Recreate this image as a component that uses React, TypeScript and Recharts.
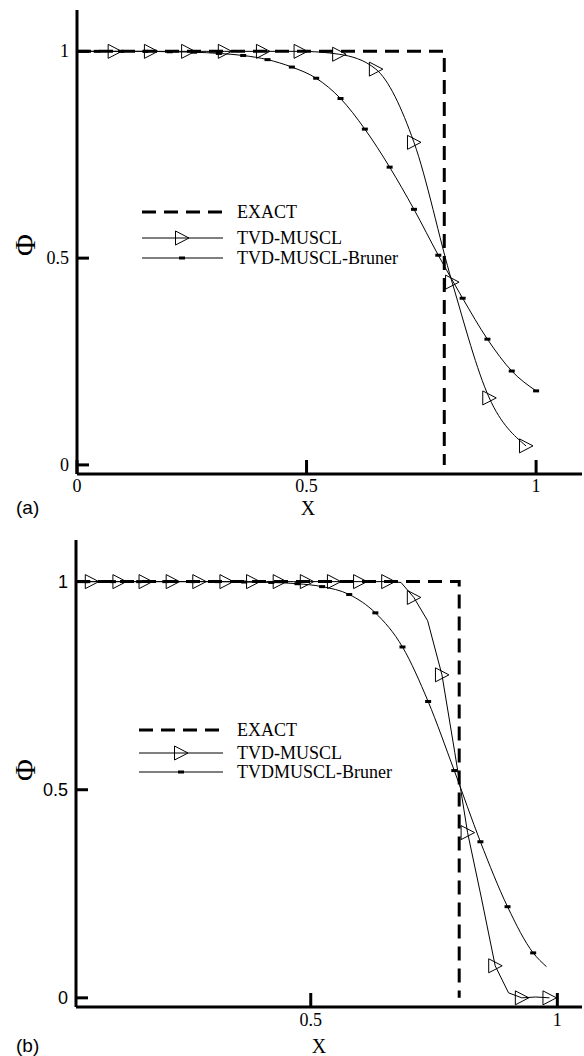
import { LineChart, Line, XAxis, YAxis } from "recharts"

const SERIF = "'Liberation Serif', 'Times New Roman', serif"
const SANS = "'Liberation Sans', Arial, sans-serif"

// ---- panel (a) ----
const exactAX = [0, 0.8, 0.8]
const exactAY = [1, 1, 0]

const musclAX = [0, 0.082, 0.161, 0.242, 0.322, 0.405, 0.487, 0.571, 0.651, 0.734, 0.817, 0.898, 0.978]
const musclAY = [1, 1, 1, 1, 1, 1, 1, 0.993, 0.957, 0.78, 0.442, 0.162, 0.046]

const brunerAX = [0, 0.043, 0.096, 0.149, 0.202, 0.255, 0.309, 0.362, 0.415, 0.468, 0.521, 0.574, 0.627, 0.681, 0.734, 0.787, 0.84, 0.894, 0.947, 1.0]
const brunerAY = [1, 1, 1, 1, 0.999, 0.998, 0.995, 0.99, 0.98, 0.962, 0.935, 0.886, 0.812, 0.72, 0.618, 0.507, 0.403, 0.304, 0.227, 0.179]

// ---- panel (b) ----
const exactBX = [0.024, 0.801, 0.801]
const exactBY = [1, 1, 0]

const musclBX = [
  0.029, 0.056, 0.084, 0.112, 0.138, 0.165, 0.192, 0.22, 0.247, 0.274, 0.301, 0.329,
  0.356, 0.383, 0.41, 0.437, 0.465, 0.492, 0.519, 0.547, 0.573, 0.6, 0.628, 0.657,
  0.683, 0.709, 0.737, 0.766, 0.792, 0.818, 0.846, 0.874, 0.901, 0.928, 0.956, 0.984,
]
const musclBY = [
  1, 1, 1, 1, 1, 1, 1, 1, 1, 1, 1, 1,
  1, 1, 1, 1, 1, 1, 1, 1, 1, 1, 1, 1,
  0.998, 0.962, 0.906, 0.776, 0.59, 0.397, 0.24, 0.077, 0.012, 0, 0.002, 0,
]

const brunerBX = [0.024, 0.047, 0.099, 0.152, 0.205, 0.26, 0.312, 0.365, 0.42, 0.473, 0.523, 0.578, 0.631, 0.686, 0.738, 0.791, 0.844, 0.899, 0.951, 0.978]
const brunerBY = [1, 1, 1, 1, 1, 1, 1, 0.999, 0.998, 0.995, 0.988, 0.969, 0.925, 0.843, 0.712, 0.546, 0.375, 0.219, 0.108, 0.075]

const ticksA = [0, 0.5, 1]
const ticksBX = [0.5, 1]
const ticksY = [0, 0.5, 1]

type Kind = "exact" | "tri" | "bar"

const toPts = (xs: number[], ys: number[]) => xs.map((x, i) => ({ x, y: ys[i] }))

function Marker({ cx, cy, kind }: { cx: number; cy: number; kind: Kind }) {
  if (kind === "tri")
    return (
      <polygon
        points={`${cx - 6.5},${cy - 7} ${cx - 6.5},${cy + 7} ${cx + 7},${cy}`}
        fill="none"
        stroke="#000"
        strokeWidth={1}
      />
    )
  return <rect x={cx - 3} y={cy - 1.5} width={6} height={3} fill="#000" />
}

interface Series {
  name: string
  kind: Kind
  pts: { x: number; y: number }[]
  curve: "linear" | "monotone"
  mark?: (i: number, n: number) => boolean
}

interface PanelProps {
  top: number
  tag: string
  xDomain: [number, number]
  xTicks: number[]
  yFont: string
  margin: { top: number; right: number; left: number; bottom: number }
  yAxisWidth: number
  xAxisHeight: number
  series: Series[]
  legend: { x1: number; x2: number; mx: number; tx: number; rows: number[] }
  phi: { x: number; y: number }
  xTitle: { x: number; y: number }
  tagPos: { x: number; y: number }
  xLabelDy: number
}

function Panel(p: PanelProps) {
  const YTick = (t: any) => (
    <g>
      <line x1={t.x} x2={t.x + 12} y1={t.y} y2={t.y} stroke="#000" strokeWidth={3} />
      <text x={t.x - 8} y={t.y} textAnchor="end" dominantBaseline="central" fontFamily={p.yFont} fontSize={18} fill="#000">
        {t.payload.value}
      </text>
    </g>
  )
  const XTick = (t: any) => (
    <g>
      <line x1={t.x} x2={t.x} y1={t.y} y2={t.y - 14} stroke="#000" strokeWidth={3} />
      <text x={t.x} y={t.y + p.xLabelDy} textAnchor="middle" dominantBaseline="central" fontFamily={SERIF} fontSize={18} fill="#000">
        {t.payload.value}
      </text>
    </g>
  )

  return (
    <div style={{ position: "absolute", left: 0, top: p.top, width: 584, height: 528 }}>
      <LineChart width={584} height={528} margin={p.margin}>
        <XAxis
          dataKey="x"
          type="number"
          domain={p.xDomain}
          ticks={p.xTicks}
          allowDataOverflow
          height={p.xAxisHeight}
          tickSize={0}
          tickMargin={0}
          tickLine={false}
          axisLine={{ stroke: "#000", strokeWidth: 3 }}
          tick={XTick}
        />
        <YAxis
          type="number"
          domain={[-0.022, 1.1]}
          ticks={ticksY}
          allowDataOverflow
          width={p.yAxisWidth}
          tickSize={0}
          tickMargin={0}
          tickLine={false}
          axisLine={{ stroke: "#000", strokeWidth: 3 }}
          tick={YTick}
        />
        {p.series.map((s) => (
          <Line
            key={s.name}
            data={s.pts}
            dataKey="y"
            type={s.curve}
            stroke="#000"
            strokeWidth={s.kind === "exact" ? 3 : 1}
            strokeDasharray={s.kind === "exact" ? "14 8" : undefined}
            isAnimationActive={false}
            activeDot={false}
            dot={
              s.kind === "exact"
                ? false
                : (d: any) =>
                    s.mark && s.mark(d.index, s.pts.length) ? (
                      <Marker key={`${s.name}-${d.index}`} cx={d.cx} cy={d.cy} kind={s.kind} />
                    ) : (
                      <g key={`${s.name}-${d.index}`} />
                    )
            }
          />
        ))}
      </LineChart>
      <svg width={584} height={528} style={{ position: "absolute", left: 0, top: 0, pointerEvents: "none" }}>
        {p.series.map((s, i) => {
          const y = p.legend.rows[i]
          return (
            <g key={s.name}>
              <line
                x1={p.legend.x1}
                x2={p.legend.x2}
                y1={y}
                y2={y}
                stroke="#000"
                strokeWidth={s.kind === "exact" ? 3 : 1}
                strokeDasharray={s.kind === "exact" ? "14 8" : undefined}
              />
              {s.kind !== "exact" && <Marker cx={p.legend.mx} cy={y} kind={s.kind} />}
              <text x={p.legend.tx} y={y} dominantBaseline="central" fontFamily={SERIF} fontSize={18} fill="#000">
                {s.name}
              </text>
            </g>
          )
        })}
        <text
          x={p.phi.x}
          y={p.phi.y}
          textAnchor="middle"
          dominantBaseline="central"
          fontFamily={SERIF}
          fontSize={30}
          transform={`rotate(-90 ${p.phi.x} ${p.phi.y})`}
          fill="#000"
        >
          Φ
        </text>
        <text x={p.xTitle.x} y={p.xTitle.y} textAnchor="middle" dominantBaseline="central" fontFamily={SERIF} fontSize={20} fill="#000">
          X
        </text>
        <text x={p.tagPos.x} y={p.tagPos.y} dominantBaseline="central" fontFamily={SANS} fontSize={19} fill="#000">
          {p.tag}
        </text>
      </svg>
    </div>
  )
}

const skipFirst = (i: number) => i > 0
const odd = (i: number) => i % 2 === 1
const inner = (i: number, n: number) => i > 0 && i < n - 1

export default function App() {
  return (
    <div style={{ position: "absolute", left: 0, top: 0, width: 584, height: 1056, background: "#fff" }}>
      <Panel
        top={0}
        tag="(a)"
        xDomain={[0, 1.1]}
        xTicks={ticksA}
        yFont={SERIF}
        margin={{ top: 10, right: 2, left: 0, bottom: 0 }}
        yAxisWidth={77}
        xAxisHeight={54}
        xLabelDy={12}
        series={[
          { name: "EXACT", kind: "exact", pts: toPts(exactAX, exactAY), curve: "linear" },
          { name: "TVD-MUSCL", kind: "tri", pts: toPts(musclAX, musclAY), curve: "monotone", mark: skipFirst },
          { name: "TVD-MUSCL-Bruner", kind: "bar", pts: toPts(brunerAX, brunerAY), curve: "monotone", mark: skipFirst },
        ]}
        legend={{ x1: 142, x2: 223, mx: 182, tx: 237, rows: [212, 238, 258] }}
        phi={{ x: 24, y: 245 }}
        xTitle={{ x: 308, y: 508 }}
        tagPos={{ x: 16, y: 507 }}
      />
      <Panel
        top={528}
        tag="(b)"
        xDomain={[0.024, 1.05]}
        xTicks={ticksBX}
        yFont={SANS}
        margin={{ top: 12, right: 2, left: 0, bottom: 0 }}
        yAxisWidth={76}
        xAxisHeight={49}
        xLabelDy={13}
        series={[
          { name: "EXACT", kind: "exact", pts: toPts(exactBX, exactBY), curve: "linear" },
          { name: "TVD-MUSCL", kind: "tri", pts: toPts(musclBX, musclBY), curve: "linear", mark: odd },
          { name: "TVDMUSCL-Bruner", kind: "bar", pts: toPts(brunerBX, brunerBY), curve: "monotone", mark: inner },
        ]}
        legend={{ x1: 139, x2: 223, mx: 181, tx: 237, rows: [202, 225, 244] }}
        phi={{ x: 24, y: 242 }}
        xTitle={{ x: 319, y: 518 }}
        tagPos={{ x: 16, y: 517 }}
      />
    </div>
  )
}
